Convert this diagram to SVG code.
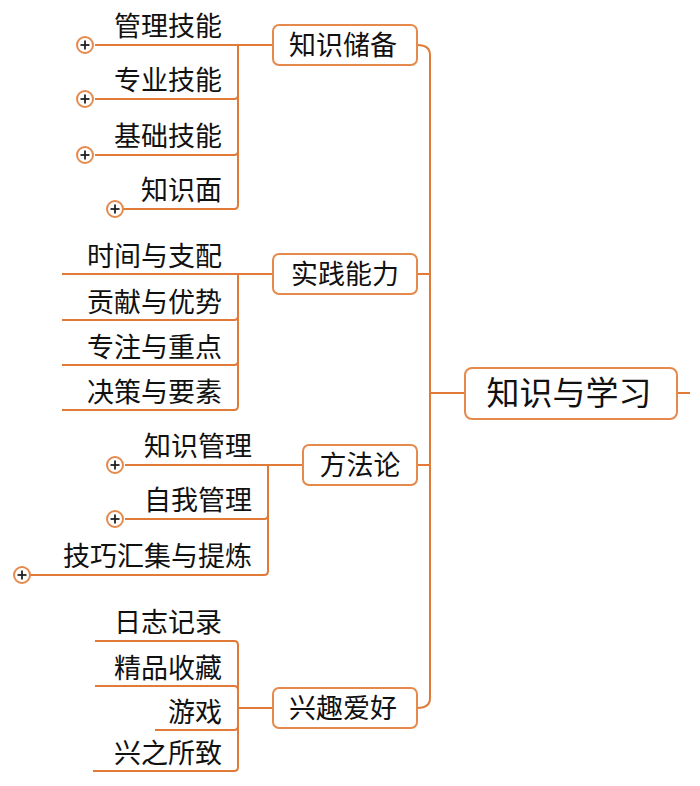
<svg xmlns="http://www.w3.org/2000/svg" width="700" height="786" viewBox="0 0 700 786">
<style>
.ln{fill:none;stroke:#e07a36;stroke-width:2}
.bx{fill:#fff;stroke:#e58a4c;stroke-width:2}
.t{font-family:"Noto Sans CJK SC",sans-serif;fill:#111}
.l{font-size:27px;text-anchor:end}
.m{font-size:27px;text-anchor:middle}
.pc{fill:#fff;stroke:#e58a4c;stroke-width:2}
.pl{stroke:#222;stroke-width:1.8}
</style>
<defs>
<g id="plus"><circle class="pc" r="8"/><line class="pl" x1="-4.5" y1="0" x2="4.5" y2="0"/><line class="pl" x1="0" y1="-4.5" x2="0" y2="4.5"/></g>
</defs>
<g id="connectors">
<path class="ln" d="M677 393H690"/>
<path class="ln" d="M465 393H430"/>
<path class="ln" d="M417 45Q430 45 430 55V698Q430 708 417 708"/>
<path class="ln" d="M417 274H430M417 465H430"/>
<path class="ln" d="M273 45H238M95 45H238V205Q238 209 234 209H120M95 99H234Q238 99 238 95M95 155H234Q238 155 238 151"/>
<path class="ln" d="M273 274H238M62 274H238V406Q238 410 234 410H62M62 320H234Q238 320 238 316M62 365H234Q238 365 238 361"/>
<path class="ln" d="M303 465H268M125 465H268V571Q268 575 264 575H30M125 519H264Q268 519 268 515"/>
<path class="ln" d="M273 708H238M95 641H234Q238 641 238 645V767Q238 771 234 771H93M95 686H234Q238 686 238 690M155 730H234Q238 730 238 726"/>
</g>
<g id="root"><rect class="bx" x="465" y="368" width="212" height="51" rx="7"/><text class="t" x="569" y="405" font-size="33" text-anchor="middle">知识与学习</text></g>
<g id="n1"><rect class="bx" x="273" y="25" width="144" height="40" rx="6"/><text class="t m" x="343" y="55">知识储备</text></g>
<g id="n2"><rect class="bx" x="273" y="254" width="144" height="40" rx="6"/><text class="t m" x="345" y="284">实践能力</text></g>
<g id="n3"><rect class="bx" x="303" y="445" width="114" height="40" rx="6"/><text class="t m" x="360" y="475">方法论</text></g>
<g id="n4"><rect class="bx" x="273" y="688" width="144" height="40" rx="6"/><text class="t m" x="343" y="718">兴趣爱好</text></g>
<g id="a1"><text class="t l" x="222" y="36">管理技能</text><use href="#plus" x="85" y="45"/></g>
<g id="a2"><text class="t l" x="222" y="90">专业技能</text><use href="#plus" x="85" y="99"/></g>
<g id="a3"><text class="t l" x="222" y="146">基础技能</text><use href="#plus" x="85" y="155"/></g>
<g id="a4"><text class="t l" x="222" y="200">知识面</text><use href="#plus" x="115" y="209"/></g>
<g id="b1"><text class="t l" x="222" y="266">时间与支配</text></g>
<g id="b2"><text class="t l" x="222" y="312">贡献与优势</text></g>
<g id="b3"><text class="t l" x="222" y="357">专注与重点</text></g>
<g id="b4"><text class="t l" x="222" y="402">决策与要素</text></g>
<g id="c1"><text class="t l" x="252" y="456">知识管理</text><use href="#plus" x="115" y="465"/></g>
<g id="c2"><text class="t l" x="252" y="510">自我管理</text><use href="#plus" x="115" y="519"/></g>
<g id="c3"><text class="t l" x="252" y="566">技巧汇集与提炼</text><use href="#plus" x="22" y="575"/></g>
<g id="d1"><text class="t l" x="222" y="632">日志记录</text></g>
<g id="d2"><text class="t l" x="222" y="678">精品收藏</text></g>
<g id="d3"><text class="t l" x="222" y="722">游戏</text></g>
<g id="d4"><text class="t l" x="222" y="763">兴之所致</text></g>
</svg>
